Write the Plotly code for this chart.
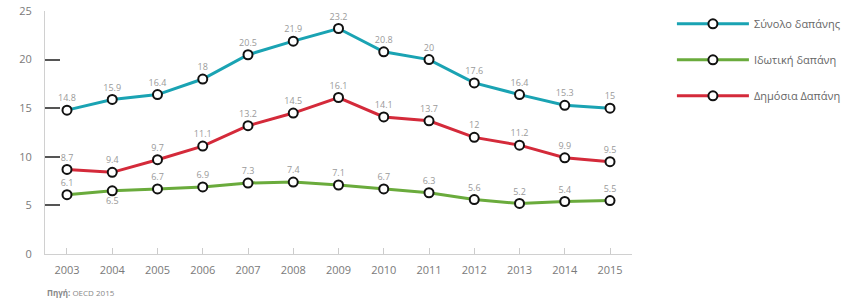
import plotly.graph_objects as go

years = [2003, 2004, 2005, 2006, 2007, 2008, 2009, 2010, 2011, 2012, 2013, 2014, 2015]
total = [14.8, 15.9, 16.4, 18, 20.5, 21.9, 23.2, 20.8, 20, 17.6, 16.4, 15.3, 15]
private = [6.1, 6.5, 6.7, 6.9, 7.3, 7.4, 7.1, 6.7, 6.3, 5.6, 5.2, 5.4, 5.5]
public = [8.7, 8.4, 9.7, 11.1, 13.2, 14.5, 16.1, 14.1, 13.7, 12, 11.2, 9.9, 9.5]
public_labels = ["8.7", "9.4", "9.7", "11.1", "13.2", "14.5", "16.1", "14.1", "13.7", "12", "11.2", "9.9", "9.5"]
names = ["Σύνολο δαπάνης", "Ιδωτική δαπάνη", "Δημόσια Δαπάνη"]
colors = ["#1aa3b3", "#6aab3c", "#d42a3a"]
y_ticks = [0, 5, 10, 15, 20, 25]

FONT = "Open Sans, Lato, sans-serif"

def fmt(v):
    return ("%g" % v)

fig = go.Figure()
series = [
    (total, [fmt(v) for v in total], ["top center"] * 13),
    (private, [fmt(v) for v in private], ["top center", "bottom center"] + ["top center"] * 11),
    (public, public_labels, ["top center"] * 13),
]
for i, (vals, labels, pos) in enumerate(series):
    fig.add_trace(go.Scatter(
        x=years, y=vals, name=names[i], legendgroup=str(i),
        mode="lines+markers+text",
        text=labels, textposition=pos,
        textfont=dict(size=9, color="#9a9a9a", family=FONT),
        line=dict(color=colors[i], width=3),
        marker=dict(symbol="circle", size=9, color="white",
                    line=dict(color="#111111", width=2)),
        cliponaxis=False,
    ))

fig.update_layout(
    width=853, height=299,
    margin=dict(l=45, r=221, t=11, b=45, autoexpand=False),
    paper_bgcolor="white", plot_bgcolor="white",
    font=dict(family=FONT, color="#777777"),
    showlegend=True,
    legend=dict(
        x=1.068, y=1.007, xanchor="left", yanchor="top",
        font=dict(size=11, color="#666666", family=FONT),
        itemwidth=72, traceorder="grouped", tracegroupgap=17,
        bgcolor="rgba(0,0,0,0)",
    ),
    xaxis=dict(
        range=[2002.514, 2015.486], tickmode="array", tickvals=years,
        ticktext=[str(y) for y in years],
        showgrid=False, zeroline=False,
        showline=True, linecolor="#d0d0d0", linewidth=1,
        ticks="inside", ticklen=6, tickcolor="#cccccc", tickwidth=1,
        tickfont=dict(size=11, color="#7a7a7a", family=FONT),
        ticklabelstandoff=6,
    ),
    yaxis=dict(
        range=[0, 25], tickmode="array", tickvals=y_ticks,
        showgrid=False, zeroline=False,
        showline=True, linecolor="#d0d0d0", linewidth=1,
        ticks="inside", ticklen=15, tickcolor="#555555", tickwidth=2,
        tickfont=dict(size=11, color="#7a7a7a", family=FONT),
        ticklabelstandoff=10,
    ),
    annotations=[dict(
        xref="paper", yref="paper", x=0, y=-0.16, xanchor="left", yanchor="middle",
        text="<b>Πηγή:</b> OECD 2015", showarrow=False,
        font=dict(size=8, color="#888888", family=FONT),
    )],
)

fig.write_html(
    "out.html",
    config={"displayModeBar": False},
    post_script="document.body.style.margin='0';document.body.style.padding='0';",
)
